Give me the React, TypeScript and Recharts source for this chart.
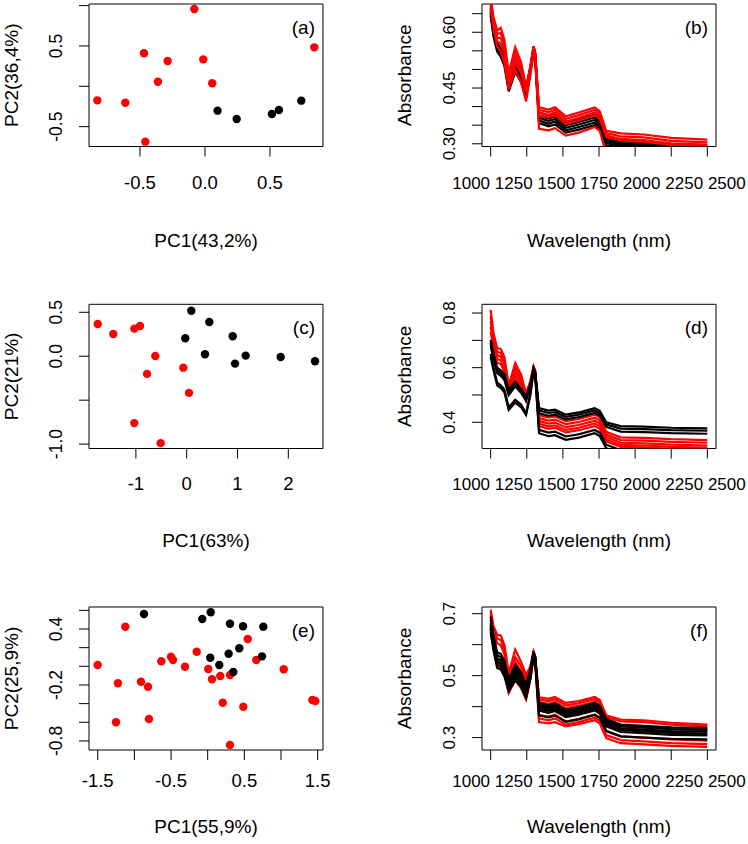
import React from 'react';
import { ScatterChart, Scatter, LineChart, Line, XAxis, YAxis, ReferenceArea } from 'recharts';

const FONT = '"Liberation Sans", Arial, Helvetica, sans-serif';
const RED = '#ff0000';
const BLACK = '#000000';

// ---------- PCA scores ----------
const A_RED_X = [-0.082, -0.469, -0.287, -0.013, -0.362, 0.056, -0.828, -0.613, -0.459, 0.841];
const A_RED_Y = [0.958, 0.409, 0.313, 0.334, 0.057, 0.037, -0.174, -0.203, -0.686, 0.483];
const A_BLACK_X = [0.097, 0.244, 0.515, 0.569, 0.741];
const A_BLACK_Y = [-0.302, -0.405, -0.343, -0.294, -0.178];

const C_RED_X = [-1.752, -1.445, -1.031, -0.919, -0.618, -0.781, -0.067, 0.045, -1.031, -0.512];
const C_RED_Y = [0.367, 0.253, 0.314, 0.344, 0.003, -0.201, -0.13, -0.417, -0.761, -0.989];
const C_BLACK_X = [0.091, 0.445, -0.028, 0.906, 0.36, 0.951, 1.161, 1.85, 2.526];
const C_BLACK_Y = [0.518, 0.39, 0.205, 0.227, 0.023, -0.084, 0.007, -0.008, -0.057];

const E_RED_X = [-1.124, 0.546, -0.15, -0.501, -0.473, -0.633, -1.501, -0.31, 0.008, 0.663, 1.037, 0.172, 0.304, 0.059, -0.91, -1.224, -0.814, 0.205, 0.486, 1.427, 1.468, -1.251, -0.801, 0.304];
const E_RED_Y = [0.424, 0.293, 0.156, 0.103, 0.068, 0.054, 0.014, -0.004, -0.029, 0.068, -0.032, -0.104, -0.093, -0.139, -0.165, -0.182, -0.219, -0.39, -0.433, -0.361, -0.372, -0.6, -0.565, -0.844];
const E_BLACK_X = [-0.869, 0.041, -0.074, 0.304, 0.482, 0.759, 0.431, 0.286, 0.035, 0.741, 0.158, 0.349];
const E_BLACK_Y = [0.561, 0.579, 0.507, 0.457, 0.429, 0.424, 0.193, 0.135, 0.092, 0.107, 0.014, -0.061];

// ---------- Spectra ----------
const WAVELENGTHS = [1000, 1020, 1045, 1070, 1095, 1125, 1170, 1210, 1245, 1275, 1297, 1308, 1335, 1400, 1445, 1520, 1610, 1720, 1755, 1800, 1900, 2060, 2250, 2500];

const B_BLACK = [
  [0.665, 0.612, 0.572, 0.556, 0.532, 0.468, 0.520, 0.490, 0.447, 0.510, 0.562, 0.545, 0.385, 0.376, 0.382, 0.358, 0.367, 0.378, 0.368, 0.320, 0.307, 0.305, 0.299, 0.296],
  [0.660, 0.606, 0.566, 0.550, 0.526, 0.461, 0.513, 0.484, 0.441, 0.505, 0.558, 0.541, 0.377, 0.368, 0.374, 0.350, 0.359, 0.371, 0.361, 0.314, 0.302, 0.300, 0.294, 0.291],
  [0.655, 0.600, 0.560, 0.545, 0.521, 0.454, 0.506, 0.478, 0.435, 0.500, 0.554, 0.537, 0.370, 0.361, 0.367, 0.343, 0.352, 0.364, 0.354, 0.308, 0.298, 0.296, 0.290, 0.287],
  [0.650, 0.594, 0.554, 0.539, 0.515, 0.447, 0.499, 0.472, 0.429, 0.495, 0.550, 0.533, 0.363, 0.354, 0.360, 0.336, 0.345, 0.357, 0.347, 0.302, 0.294, 0.292, 0.286, 0.283],
  [0.645, 0.588, 0.548, 0.534, 0.510, 0.441, 0.493, 0.466, 0.423, 0.490, 0.546, 0.529, 0.356, 0.347, 0.352, 0.330, 0.338, 0.350, 0.340, 0.296, 0.290, 0.288, 0.282, 0.279],
];
const B_RED = [
  [0.690, 0.640, 0.605, 0.612, 0.580, 0.490, 0.560, 0.520, 0.455, 0.505, 0.562, 0.545, 0.398, 0.392, 0.398, 0.374, 0.384, 0.398, 0.388, 0.335, 0.328, 0.325, 0.316, 0.311],
  [0.686, 0.632, 0.596, 0.598, 0.568, 0.480, 0.545, 0.508, 0.449, 0.503, 0.560, 0.543, 0.391, 0.385, 0.391, 0.367, 0.377, 0.391, 0.381, 0.329, 0.320, 0.317, 0.308, 0.304],
  [0.682, 0.624, 0.586, 0.584, 0.555, 0.472, 0.532, 0.499, 0.444, 0.502, 0.558, 0.541, 0.384, 0.378, 0.384, 0.360, 0.370, 0.384, 0.374, 0.323, 0.313, 0.310, 0.301, 0.298],
  [0.676, 0.615, 0.576, 0.570, 0.542, 0.464, 0.520, 0.490, 0.440, 0.500, 0.556, 0.539, 0.376, 0.371, 0.377, 0.353, 0.363, 0.377, 0.367, 0.318, 0.309, 0.306, 0.297, 0.294],
  [0.670, 0.608, 0.562, 0.548, 0.518, 0.446, 0.500, 0.466, 0.414, 0.485, 0.548, 0.531, 0.340, 0.336, 0.342, 0.322, 0.330, 0.345, 0.335, 0.272, 0.262, 0.260, 0.255, 0.252],
];

const D_RED = [
  [0.812, 0.725, 0.672, 0.668, 0.640, 0.535, 0.617, 0.575, 0.505, 0.552, 0.605, 0.590, 0.425, 0.418, 0.421, 0.404, 0.412, 0.428, 0.418, 0.365, 0.345, 0.343, 0.338, 0.335],
  [0.790, 0.712, 0.658, 0.654, 0.626, 0.527, 0.600, 0.562, 0.498, 0.548, 0.603, 0.588, 0.415, 0.406, 0.410, 0.393, 0.401, 0.417, 0.407, 0.355, 0.335, 0.333, 0.328, 0.325],
  [0.770, 0.700, 0.645, 0.640, 0.612, 0.519, 0.585, 0.550, 0.491, 0.544, 0.601, 0.586, 0.405, 0.395, 0.399, 0.382, 0.390, 0.406, 0.396, 0.346, 0.325, 0.323, 0.318, 0.315],
  [0.750, 0.688, 0.632, 0.627, 0.598, 0.511, 0.570, 0.538, 0.484, 0.540, 0.599, 0.584, 0.395, 0.385, 0.389, 0.372, 0.380, 0.396, 0.386, 0.337, 0.317, 0.315, 0.310, 0.307],
  [0.730, 0.676, 0.618, 0.614, 0.585, 0.503, 0.555, 0.526, 0.477, 0.536, 0.597, 0.582, 0.386, 0.376, 0.380, 0.363, 0.371, 0.386, 0.376, 0.330, 0.310, 0.308, 0.303, 0.300],
];
const D_BLACK = [
  [0.702, 0.650, 0.600, 0.590, 0.575, 0.520, 0.548, 0.522, 0.494, 0.540, 0.598, 0.583, 0.452, 0.443, 0.446, 0.428, 0.436, 0.452, 0.442, 0.400, 0.386, 0.384, 0.380, 0.378],
  [0.692, 0.640, 0.590, 0.580, 0.565, 0.510, 0.540, 0.515, 0.487, 0.535, 0.596, 0.581, 0.443, 0.434, 0.437, 0.420, 0.428, 0.443, 0.433, 0.392, 0.377, 0.375, 0.371, 0.369],
  [0.682, 0.630, 0.580, 0.570, 0.555, 0.500, 0.532, 0.508, 0.480, 0.530, 0.594, 0.579, 0.433, 0.424, 0.428, 0.411, 0.419, 0.434, 0.424, 0.383, 0.366, 0.364, 0.360, 0.358],
  [0.650, 0.600, 0.545, 0.535, 0.520, 0.455, 0.482, 0.465, 0.433, 0.505, 0.590, 0.575, 0.372, 0.362, 0.366, 0.348, 0.356, 0.372, 0.362, 0.318, 0.298, 0.294, 0.290, 0.287],
  [0.640, 0.590, 0.535, 0.525, 0.510, 0.445, 0.472, 0.455, 0.427, 0.500, 0.588, 0.573, 0.360, 0.349, 0.353, 0.336, 0.344, 0.360, 0.350, 0.305, 0.287, 0.284, 0.280, 0.277],
];

const F_RED = [
  [0.713, 0.660, 0.632, 0.630, 0.600, 0.509, 0.584, 0.545, 0.503, 0.530, 0.578, 0.562, 0.430, 0.425, 0.431, 0.412, 0.418, 0.431, 0.421, 0.372, 0.358, 0.356, 0.348, 0.342],
  [0.705, 0.650, 0.620, 0.615, 0.585, 0.500, 0.560, 0.530, 0.490, 0.525, 0.576, 0.560, 0.423, 0.418, 0.424, 0.404, 0.411, 0.424, 0.414, 0.366, 0.352, 0.350, 0.342, 0.336],
  [0.695, 0.640, 0.605, 0.598, 0.570, 0.490, 0.545, 0.515, 0.478, 0.520, 0.574, 0.558, 0.415, 0.409, 0.415, 0.395, 0.403, 0.416, 0.406, 0.358, 0.340, 0.336, 0.330, 0.326],
  [0.665, 0.605, 0.550, 0.545, 0.520, 0.455, 0.500, 0.478, 0.435, 0.498, 0.567, 0.551, 0.373, 0.368, 0.374, 0.352, 0.361, 0.375, 0.365, 0.320, 0.304, 0.300, 0.294, 0.290],
  [0.655, 0.595, 0.540, 0.535, 0.510, 0.449, 0.492, 0.468, 0.428, 0.493, 0.564, 0.548, 0.362, 0.356, 0.362, 0.342, 0.350, 0.364, 0.354, 0.308, 0.292, 0.288, 0.282, 0.279],
  [0.648, 0.588, 0.532, 0.527, 0.502, 0.444, 0.485, 0.460, 0.423, 0.488, 0.561, 0.545, 0.350, 0.346, 0.350, 0.336, 0.343, 0.356, 0.346, 0.298, 0.282, 0.278, 0.273, 0.270],
];
const F_BLACK = [
  [0.690, 0.630, 0.575, 0.570, 0.548, 0.487, 0.535, 0.510, 0.471, 0.520, 0.578, 0.562, 0.412, 0.404, 0.410, 0.390, 0.398, 0.412, 0.402, 0.360, 0.342, 0.338, 0.333, 0.331],
  [0.680, 0.620, 0.565, 0.560, 0.538, 0.480, 0.525, 0.501, 0.462, 0.514, 0.575, 0.559, 0.406, 0.398, 0.404, 0.384, 0.392, 0.406, 0.396, 0.354, 0.336, 0.332, 0.327, 0.325],
  [0.670, 0.610, 0.555, 0.550, 0.528, 0.473, 0.515, 0.492, 0.453, 0.508, 0.572, 0.556, 0.400, 0.392, 0.398, 0.378, 0.386, 0.400, 0.390, 0.348, 0.330, 0.326, 0.321, 0.319],
  [0.660, 0.600, 0.545, 0.540, 0.518, 0.466, 0.505, 0.483, 0.444, 0.502, 0.569, 0.553, 0.394, 0.386, 0.392, 0.372, 0.380, 0.394, 0.384, 0.342, 0.324, 0.320, 0.315, 0.313],
  [0.650, 0.590, 0.535, 0.530, 0.508, 0.459, 0.495, 0.474, 0.436, 0.496, 0.566, 0.550, 0.387, 0.380, 0.386, 0.366, 0.374, 0.388, 0.378, 0.336, 0.318, 0.314, 0.309, 0.307],
  [0.640, 0.580, 0.525, 0.520, 0.498, 0.450, 0.485, 0.465, 0.428, 0.490, 0.563, 0.547, 0.372, 0.365, 0.371, 0.351, 0.359, 0.373, 0.363, 0.322, 0.304, 0.300, 0.296, 0.294],
];

// ---------- Axis ticks ----------
const WL_TICKS = [1000, 1250, 1500, 1750, 2000, 2250, 2500];
const WL_LABELS = ['1000', '1250', '1500', '1750', '2000', '2250', '2500'];

const A_X_TICKS = [-0.5, 0, 0.5];
const A_X_LABELS = ['-0.5', '0.0', '0.5'];
const A_Y_TICKS = [-0.5, 0, 0.5, 1.0];
const A_Y_LABELS = ['-0.5', '', '0.5', ''];

const C_X_TICKS = [-1, 0, 1, 2];
const C_X_LABELS = ['-1', '0', '1', '2'];
const C_Y_TICKS = [-1.0, -0.5, 0, 0.5];
const C_Y_LABELS = ['-1.0', '', '0.0', '0.5'];

const E_X_TICKS = [-1.5, -1, -0.5, 0, 0.5, 1, 1.5];
const E_X_LABELS = ['-1.5', '', '-0.5', '', '0.5', '', '1.5'];
const E_Y_TICKS = [-0.8, -0.6, -0.4, -0.2, 0, 0.2, 0.4, 0.6];
const E_Y_LABELS = ['-0.8', '', '', '-0.2', '', '', '0.4', ''];

const B_Y_TICKS = [0.3, 0.35, 0.4, 0.45, 0.5, 0.55, 0.6, 0.65];
const B_Y_LABELS = ['0.30', '', '', '0.45', '', '', '0.60', ''];
const D_Y_TICKS = [0.4, 0.5, 0.6, 0.7, 0.8];
const D_Y_LABELS = ['0.4', '', '0.6', '', '0.8'];
const F_Y_TICKS = [0.3, 0.4, 0.5, 0.6, 0.7];
const F_Y_LABELS = ['0.3', '', '0.5', '', '0.7'];

// ---------- helpers ----------
const zip = (xs: number[], ys: number[]) => xs.map((x, i) => ({ x, y: ys[i] }));

const labelOf = (ticks: number[], labels: string[], v: number) => {
  const i = ticks.findIndex((t) => Math.abs(t - v) < 1e-9);
  return i >= 0 ? labels[i] : '';
};

const makeXTick = (ticks: number[], labels: string[], dy: number, fs: number, spreadPerTick = 0, centerVal = 0, stepVal = 1) =>
  (props: any) => {
    const { x, y, payload } = props;
    const lab = labelOf(ticks, labels, payload.value);
    if (!lab) return <g />;
    const shift = spreadPerTick * ((payload.value - centerVal) / stepVal);
    return (
      <text x={x + shift} y={y + dy} textAnchor="middle" fontSize={fs} fontFamily={FONT} fill="#000">
        {lab}
      </text>
    );
  };

const makeYTick = (ticks: number[], labels: string[], fs: number) => (props: any) => {
  const { x, y, payload } = props;
  const lab = labelOf(ticks, labels, payload.value);
  if (!lab) return <g />;
  const bx = x - 15;
  return (
    <text x={bx} y={y} transform={`rotate(-90 ${bx} ${y})`} textAnchor="middle" fontSize={fs} fontFamily={FONT} fill="#000">
      {lab}
    </text>
  );
};

const makeXTitle = (text: string, off: number) => (props: any) => {
  const vb = props.viewBox || {};
  return (
    <text x={vb.x + vb.width / 2} y={vb.y + off} textAnchor="middle" fontSize={19} fontFamily={FONT} fill="#000">
      {text}
    </text>
  );
};

const makeYTitle = (text: string) => (props: any) => {
  const vb = props.viewBox || {};
  const bx = vb.x + vb.width - 71;
  const cy = vb.y + vb.height / 2;
  return (
    <text x={bx} y={cy} transform={`rotate(-90 ${bx} ${cy})`} textAnchor="middle" fontSize={19} fontFamily={FONT} fill="#000">
      {text}
    </text>
  );
};

const makeTag = (text: string) => (props: any) => {
  const vb = props.viewBox || {};
  return (
    <text x={vb.x + vb.width - 8} y={vb.y + 30} textAnchor="end" fontSize={19} fontFamily={FONT} fill="#000">
      {text}
    </text>
  );
};

const dotShape = (color: string) => (props: any) => <circle cx={props.cx} cy={props.cy} r={4.2} fill={color} stroke="none" />;

type Row = { top: number; height: number; mTop: number; xAxisH: number; tickDy: number; titleOff: number };
const ROWS: Row[] = [
  { top: 0, height: 270, mTop: 4, xAxisH: 123.5, tickDy: 30, titleOff: 100 },
  { top: 270, height: 300, mTop: 34.3, xAxisH: 121.5, tickDy: 29, titleOff: 98 },
  { top: 570, height: 274, mTop: 37, xAxisH: 94, tickDy: 25, titleOff: 83 },
];

type ScatterCfg = {
  tag: string; xTitle: string; yTitle: string;
  xDomain: [number, number]; yDomain: [number, number];
  xTicks: number[]; xLabels: string[]; yTicks: number[]; yLabels: string[];
  red: { x: number; y: number }[]; black: { x: number; y: number }[];
};

const ScatterPanel = ({ cfg, row }: { cfg: ScatterCfg; row: Row }) => (
  <div style={{ position: 'absolute', left: 0, top: row.top, width: 374, height: row.height }}>
    <ScatterChart width={374} height={row.height} margin={{ top: row.mTop, right: 51, bottom: 0, left: 0 }}>
      <XAxis
        type="number" dataKey="x" domain={cfg.xDomain} allowDataOverflow ticks={cfg.xTicks} interval={0}
        axisLine={false} tickLine={{ stroke: '#000', strokeWidth: 1 }} tickSize={10} height={row.xAxisH}
        tick={makeXTick(cfg.xTicks, cfg.xLabels, row.tickDy, 18.5)}
        label={makeXTitle(cfg.xTitle, row.titleOff)}
      />
      <YAxis
        type="number" dataKey="y" domain={cfg.yDomain} allowDataOverflow ticks={cfg.yTicks} interval={0}
        axisLine={false} tickLine={{ stroke: '#000', strokeWidth: 1 }} tickSize={10} width={89}
        tick={makeYTick(cfg.yTicks, cfg.yLabels, 17.5)}
        label={makeYTitle(cfg.yTitle)}
      />
      <Scatter data={cfg.red} shape={dotShape(RED)} isAnimationActive={false} />
      <Scatter data={cfg.black} shape={dotShape(BLACK)} isAnimationActive={false} />
      <ReferenceArea
        x1={cfg.xDomain[0]} x2={cfg.xDomain[1]} y1={cfg.yDomain[0]} y2={cfg.yDomain[1]}
        fill="none" fillOpacity={0} stroke="#000" strokeWidth={1} strokeOpacity={1} ifOverflow="visible"
        label={makeTag(cfg.tag)}
      />
    </ScatterChart>
  </div>
);

type SpecCfg = {
  tag: string; yDomain: [number, number]; yTicks: number[]; yLabels: string[];
  red: number[][]; black: number[][]; blackFirst?: boolean;
};

const X_DOMAIN_WL: [number, number] = [940, 2560];

const SpecPanel = ({ cfg, row }: { cfg: SpecCfg; row: Row }) => {
  const rows = WAVELENGTHS.map((wl, i) => {
    const r: any = { wl };
    cfg.red.forEach((c, k) => { r['r' + k] = c[i]; });
    cfg.black.forEach((c, k) => { r['b' + k] = c[i]; });
    return r;
  });
  const redLines = cfg.red.map((_, k) => (
    <Line key={'r' + k} dataKey={'r' + k} stroke={RED} strokeWidth={2.2} dot={false} activeDot={false} type="linear" isAnimationActive={false} />
  ));
  const blackLines = cfg.black.map((_, k) => (
    <Line key={'b' + k} dataKey={'b' + k} stroke={BLACK} strokeWidth={2.2} dot={false} activeDot={false} type="linear" isAnimationActive={false} />
  ));
  return (
    <div style={{ position: 'absolute', left: 374, top: row.top, width: 374, height: row.height }}>
      <LineChart width={374} height={row.height} data={rows} margin={{ top: row.mTop, right: 32, bottom: 0, left: 0 }}>
        <XAxis
          type="number" dataKey="wl" domain={X_DOMAIN_WL} allowDataOverflow ticks={WL_TICKS} interval={0}
          axisLine={false} tickLine={{ stroke: '#000', strokeWidth: 1 }} tickSize={10} height={row.xAxisH}
          tick={makeXTick(WL_TICKS, WL_LABELS, row.tickDy, 17, 6.5, 1750, 250)}
          label={makeXTitle('Wavelength (nm)', row.titleOff)}
        />
        <YAxis
          type="number" domain={cfg.yDomain} allowDataOverflow ticks={cfg.yTicks} interval={0}
          axisLine={false} tickLine={{ stroke: '#000', strokeWidth: 1 }} tickSize={10} width={108}
          tick={makeYTick(cfg.yTicks, cfg.yLabels, 17)}
          label={makeYTitle('Absorbance')}
        />
        {cfg.blackFirst ? blackLines : redLines}
        {cfg.blackFirst ? redLines : blackLines}
        <ReferenceArea
          x1={X_DOMAIN_WL[0]} x2={X_DOMAIN_WL[1]} y1={cfg.yDomain[0]} y2={cfg.yDomain[1]}
          fill="none" fillOpacity={0} stroke="#000" strokeWidth={1} strokeOpacity={1} ifOverflow="visible"
          label={makeTag(cfg.tag)}
        />
      </LineChart>
    </div>
  );
};

const PANEL_A: ScatterCfg = {
  tag: '(a)', xTitle: 'PC1(43,2%)', yTitle: 'PC2(36,4%)',
  xDomain: [-0.892, 0.908], yDomain: [-0.746, 1.02],
  xTicks: A_X_TICKS, xLabels: A_X_LABELS, yTicks: A_Y_TICKS, yLabels: A_Y_LABELS,
  red: zip(A_RED_X, A_RED_Y), black: zip(A_BLACK_X, A_BLACK_Y),
};
const PANEL_C: ScatterCfg = {
  tag: '(c)', xTitle: 'PC1(63%)', yTitle: 'PC2(21%)',
  xDomain: [-1.923, 2.683], yDomain: [-1.05, 0.591],
  xTicks: C_X_TICKS, xLabels: C_X_LABELS, yTicks: C_Y_TICKS, yLabels: C_Y_LABELS,
  red: zip(C_RED_X, C_RED_Y), black: zip(C_BLACK_X, C_BLACK_Y),
};
const PANEL_E: ScatterCfg = {
  tag: '(e)', xTitle: 'PC1(55,9%)', yTitle: 'PC2(25,9%)',
  xDomain: [-1.619, 1.573], yDomain: [-0.897, 0.636],
  xTicks: E_X_TICKS, xLabels: E_X_LABELS, yTicks: E_Y_TICKS, yLabels: E_Y_LABELS,
  red: zip(E_RED_X, E_RED_Y), black: zip(E_BLACK_X, E_BLACK_Y),
};

const PANEL_B: SpecCfg = { tag: '(b)', yDomain: [0.2927, 0.676], yTicks: B_Y_TICKS, yLabels: B_Y_LABELS, red: B_RED, black: B_BLACK, blackFirst: true };
const PANEL_D: SpecCfg = { tag: '(d)', yDomain: [0.304, 0.832], yTicks: D_Y_TICKS, yLabels: D_Y_LABELS, red: D_RED, black: D_BLACK };
const PANEL_F: SpecCfg = { tag: '(f)', yDomain: [0.26, 0.7216], yTicks: F_Y_TICKS, yLabels: F_Y_LABELS, red: F_RED, black: F_BLACK };

export default function App() {
  return (
    <div style={{ position: 'absolute', left: 0, top: 0, width: 748, height: 844, background: '#fff', overflow: 'hidden', fontFamily: FONT }}>
      <ScatterPanel cfg={PANEL_A} row={ROWS[0]} />
      <SpecPanel cfg={PANEL_B} row={ROWS[0]} />
      <ScatterPanel cfg={PANEL_C} row={ROWS[1]} />
      <SpecPanel cfg={PANEL_D} row={ROWS[1]} />
      <ScatterPanel cfg={PANEL_E} row={ROWS[2]} />
      <SpecPanel cfg={PANEL_F} row={ROWS[2]} />
    </div>
  );
}
